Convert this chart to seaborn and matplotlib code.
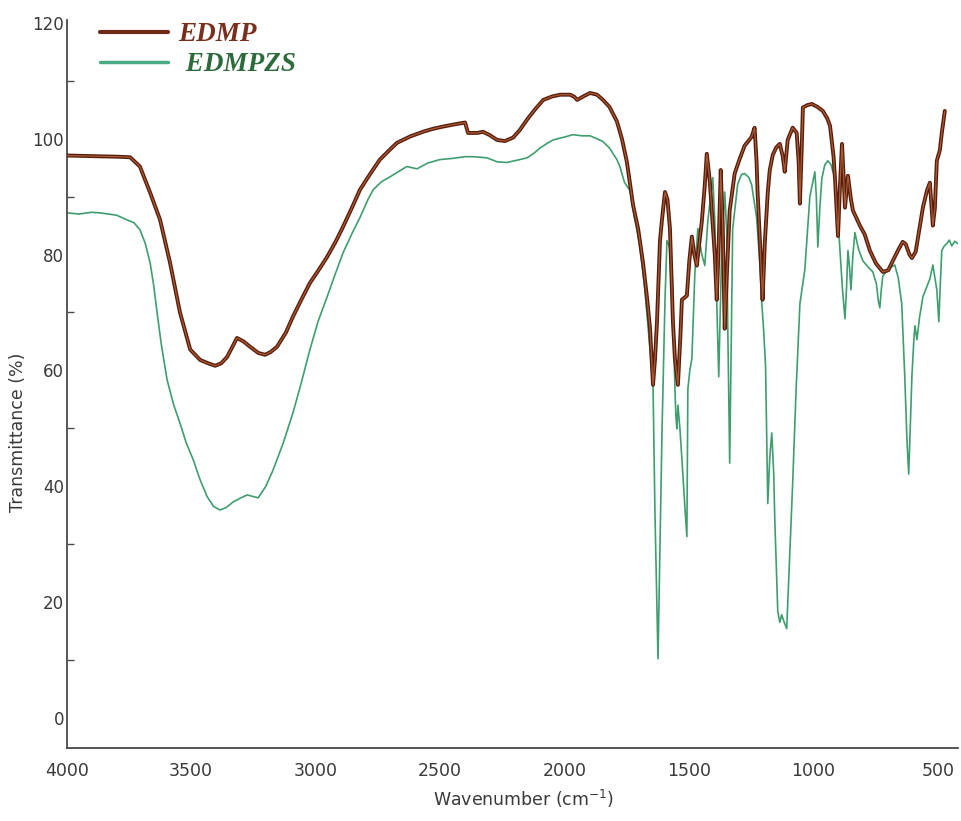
import numpy as np
import pandas as pd
import matplotlib
matplotlib.use("Agg")
import matplotlib.pyplot as plt
from matplotlib.lines import Line2D
import seaborn as sns

# ---------------- data ----------------
edmp_wn = [4000, 3900, 3800, 3745, 3706, 3665, 3625, 3585, 3545, 3504, 3464, 3430, 3404, 3380,
           3356, 3316, 3290, 3264, 3230, 3203, 3180, 3155, 3120, 3091, 3060, 3023, 2990, 2954,
           2920, 2890, 2850, 2822, 2780, 2742, 2700, 2673, 2620, 2569, 2530, 2488, 2440, 2400,
           2388, 2350, 2328, 2300, 2272, 2240, 2207, 2180, 2151, 2120, 2086, 2050, 2018, 1978,
           1960, 1950, 1925, 1898, 1870, 1846, 1820, 1790, 1770, 1750, 1725, 1705, 1685, 1669,
           1657, 1645, 1637, 1629, 1617, 1609, 1597, 1587, 1577, 1565, 1557, 1545, 1535, 1529,
           1509, 1499, 1489, 1479, 1469, 1459, 1449, 1437, 1429, 1417, 1405, 1397, 1389, 1381,
           1373, 1365, 1357, 1347, 1337, 1317, 1297, 1277, 1249, 1237, 1229, 1225, 1213, 1205,
           1196, 1184, 1176, 1164, 1150, 1136, 1124, 1116, 1104, 1084, 1068, 1060, 1055, 1048,
           1043, 1025, 1007, 985, 963, 945, 934, 920, 914, 902, 894, 886, 880, 874, 862, 850,
           842, 830, 814, 795, 774, 750, 722, 700, 682, 660, 642, 630, 615, 605, 590, 580, 561,
           545, 533, 521, 513, 505, 493, 485, 473]
edmp_t = [97.1, 97.0, 96.9, 96.8, 95.2, 90.7, 86.0, 78.6, 70.0, 63.6, 61.8, 61.2, 60.8, 61.2,
          62.3, 65.6, 65.0, 64.1, 63.0, 62.7, 63.2, 64.1, 66.5, 69.3, 72.0, 75.1, 77.2, 79.6,
          82.2, 84.8, 88.5, 91.2, 94.0, 96.4, 98.2, 99.3, 100.4, 101.2, 101.7, 102.1, 102.5, 102.8,
          101.0, 101.0, 101.2, 100.6, 99.8, 99.6, 100.2, 101.5, 103.3, 105.0, 106.7, 107.3, 107.6, 107.6,
          107.2, 106.7, 107.3, 107.9, 107.6, 106.7, 105.5, 103.0, 100.0, 96.0, 88.5, 84.5, 78.5, 72.5,
          67.2, 57.5, 62.0, 68.4, 82.4, 86.0, 90.8, 89.5, 84.5, 68.4, 62.0, 57.5, 66.0, 72.2,
          72.9, 79.0, 83.1, 80.0, 78.1, 82.0, 85.7, 92.0, 97.4, 92.7, 85.0, 80.0, 72.2, 82.0,
          94.6, 85.0, 67.2, 78.0, 87.6, 94.0, 96.5, 98.8, 100.3, 101.9, 96.0, 90.8, 80.0, 72.2,
          82.0, 90.8, 94.6, 97.2, 98.5, 99.1, 97.0, 94.3, 99.8, 101.9, 101.0, 96.0, 88.8, 98.0,
          105.4, 105.8, 106.0, 105.5, 104.8, 103.5, 102.2, 97.0, 93.1, 83.2, 92.0, 99.1, 94.0, 88.1, 93.6, 89.5,
          87.6, 86.5, 85.0, 83.5, 80.7, 78.5, 77.0, 77.3, 78.9, 80.8, 82.2, 81.8, 80.0, 79.4, 80.5, 83.1, 88.1,
          91.0, 92.4, 85.0, 88.0, 96.2, 98.0, 101.0, 104.8]

edmpzs_wn = [4000, 3950, 3900, 3866, 3800, 3758, 3730, 3706, 3685, 3665, 3650, 3637, 3620, 3597,
             3570, 3545, 3520, 3492, 3465, 3436, 3410, 3384, 3360, 3331, 3300, 3275, 3250, 3231,
             3200, 3171, 3130, 3091, 3060, 3023, 2990, 2954, 2920, 2890, 2850, 2822, 2790, 2769,
             2735, 2702, 2660, 2634, 2593, 2550, 2501, 2450, 2400, 2367, 2312, 2270, 2232, 2190,
             2151, 2120, 2099, 2070, 2046, 2000, 1966, 1930, 1898, 1870, 1846, 1820, 1790, 1778,
             1760, 1737, 1720, 1700, 1680, 1660, 1645, 1637, 1625, 1617, 1609, 1597, 1589, 1580,
             1569, 1557, 1553, 1549, 1545, 1537, 1529, 1517, 1509, 1505, 1497, 1489, 1477, 1465,
             1457, 1449, 1437, 1425, 1405, 1397, 1389, 1381, 1375, 1369, 1357, 1349, 1345, 1337,
             1331, 1325, 1305, 1290, 1277, 1260, 1249, 1229, 1215, 1209, 1201, 1193, 1184, 1176,
             1168, 1160, 1156, 1144, 1136, 1128, 1118, 1108, 1096, 1084, 1070, 1055, 1035, 1015,
             995, 989, 983, 975, 967, 955, 943, 930, 914, 902, 894, 884, 874, 868, 862, 856, 850,
             842, 834, 820, 802, 780, 762, 748, 740, 734, 728, 722, 700, 674, 660, 646, 634, 625,
             618, 612, 605, 597, 593, 589, 585, 575, 561, 545, 533, 521, 513, 505, 497, 491, 485,
             475, 465, 455, 445, 433, 421]
edmpzs_t = [87.2, 87.0, 87.3, 87.2, 86.8, 86.0, 85.5, 84.3, 82.0, 78.6, 74.5, 70.0, 64.5, 58.4,
            54.0, 50.9, 47.5, 44.6, 41.2, 38.2, 36.5, 35.9, 36.3, 37.3, 38.0, 38.5, 38.2, 38.0,
            40.0, 42.8, 47.5, 52.7, 57.5, 63.6, 68.5, 72.7, 76.8, 80.3, 84.0, 86.4, 89.5, 91.2,
            92.6, 93.4, 94.5, 95.2, 94.8, 95.8, 96.4, 96.6, 96.9, 96.9, 96.7, 96.0, 95.9, 96.3,
            96.7, 97.6, 98.4, 99.2, 99.8, 100.3, 100.7, 100.5, 100.5, 100.0, 99.5, 98.4, 96.4, 95.2,
            92.5, 91.0, 86.5, 82.0, 75.0, 65.0, 57.5, 35.0, 10.2, 30.0, 49.2, 72.0, 82.4, 81.5,
            78.1, 56.8, 52.0, 49.9, 54.0, 50.0, 44.7, 36.4, 31.3, 56.8, 60.0, 62.0, 76.7, 84.5,
            82.0, 80.0, 78.1, 85.7, 93.3, 86.0, 71.7, 58.9, 70.0, 81.2, 90.8, 84.0, 68.4, 44.0,
            65.0, 84.5, 92.1, 93.8, 94.0, 93.3, 92.1, 86.4, 78.0, 72.2, 67.2, 60.8, 37.0, 45.0,
            49.2, 42.0, 34.4, 18.5, 16.5, 17.8, 16.5, 15.4, 28.0, 40.6, 57.0, 71.5, 77.5, 90.0,
            94.3, 90.0, 81.3, 88.0, 93.1, 95.5, 96.2, 95.5, 93.1, 86.0, 80.7, 74.0, 68.9, 74.0, 80.7, 78.0, 73.9,
            80.0, 83.8, 81.0, 78.9, 77.8, 77.0, 75.0, 72.0, 70.8, 74.0, 76.3, 77.5, 78.2, 76.0, 71.5, 59.1, 48.0,
            42.1, 50.0, 59.1, 65.5, 67.7, 66.5, 65.3, 69.0, 72.7, 74.5, 75.8, 78.2, 76.0, 73.9, 68.4, 75.0, 80.7,
            81.5, 81.9, 82.5, 81.5, 82.3, 81.9]

series_labels = ["EDMP", " EDMPZS"]
x_ticks = [4000, 3500, 3000, 2500, 2000, 1500, 1000, 500]
y_ticks = [0, 20, 40, 60, 80, 100, 120]
y_minor = [10, 30, 50, 70, 90, 110]

# ---------------- styling ----------------
sns.set_style("white")
plt.rcParams["font.family"] = ["DejaVu Sans"]

axis_col = "#4a4a4a"
brown_dark = "#571d0c"
brown_core = "#a95a34"
green_col = "#3f9e6e"

fig = plt.figure(figsize=(9.61, 8.21), dpi=100)
ax = fig.add_axes([66.7 / 961, 1 - 748 / 821, (958 - 66.7) / 961, (748 - 20) / 821])

df_g = pd.DataFrame({"wn": edmpzs_wn, "T": edmpzs_t})
df_b = pd.DataFrame({"wn": edmp_wn, "T": edmp_t})

sns.lineplot(data=df_g, x="wn", y="T", sort=False, color=green_col, lw=1.2, ax=ax, zorder=2)
sns.lineplot(data=df_b, x="wn", y="T", sort=False, color=brown_dark, lw=2.8, ax=ax, zorder=3)
sns.lineplot(data=df_b, x="wn", y="T", sort=False, color=brown_core, lw=0.9, ax=ax, zorder=4)

ax.set_xlim(4000, 420)
ax.set_ylim(-5.2, 120.5)

for s in ["top", "right"]:
    ax.spines[s].set_visible(False)
for s in ["left", "bottom"]:
    ax.spines[s].set_color(axis_col)
    ax.spines[s].set_linewidth(1.3)

ax.set_xticks(x_ticks)
ax.set_xticklabels([str(v) for v in x_ticks])
ax.set_yticks(y_ticks)
ax.set_yticklabels([str(v) for v in y_ticks])
ax.set_yticks(y_minor, minor=True)
ax.tick_params(axis="x", direction="in", length=7, width=1.2, color=axis_col,
               labelsize=12.5, labelcolor="#3a3a3a", pad=10)
ax.tick_params(axis="y", which="major", direction="in", length=6, width=1.2, color=axis_col,
               labelsize=12, labelcolor="#3a3a3a", pad=2)
ax.tick_params(axis="y", which="minor", direction="in", length=5, width=1.0, color=axis_col, left=True)
ax.grid(False)

ax.set_xlabel("Wavenumber (cm$^{-1}$)", fontsize=12.5, color="#3a3a3a")
ax.set_ylabel("Transmittance (%)", fontsize=12.5, color="#3a3a3a")
ax.xaxis.set_label_coords((523 - 66.7) / 891, (748 - 788) / 728)
ax.yaxis.set_label_coords((27 - 66.7) / 891, (748 - 432) / 728)

handles = [Line2D([], [], color="#6e2a16", lw=3.0),
           Line2D([], [], color="#4aaa80", lw=2.5)]
leg = fig.legend(handles, series_labels, loc="upper left",
                 bbox_to_anchor=(100 / 961, 1 - 22 / 821), frameon=False,
                 borderpad=0, borderaxespad=0, handlelength=2.5, handletextpad=0.4,
                 labelspacing=0.2,
                 prop={"family": "Liberation Serif", "weight": "bold", "style": "italic", "size": 19.5})
leg.get_texts()[0].set_color("#7a2e1c")
leg.get_texts()[1].set_color("#2d6b3c")

fig.savefig("out.png", dpi=100)
